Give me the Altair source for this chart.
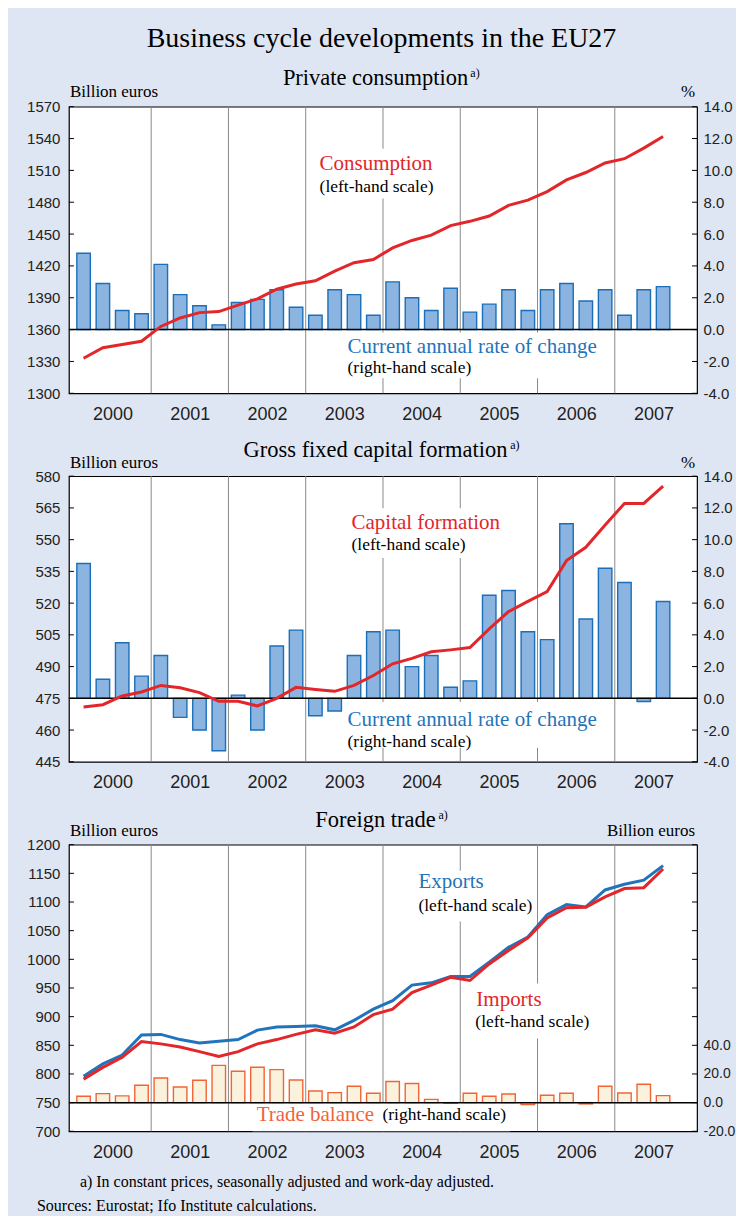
import altair as alt
import pandas as pd

# ---------------- data (quarters 2000Q1 .. 2007Q3) ----------------
years = ["2000", "2001", "2002", "2003", "2004", "2005", "2006", "2007"]
quarter_idx = list(range(31))

cons_level = [1333, 1343, 1346, 1349, 1363, 1371, 1376, 1377, 1383, 1389, 1398,
              1403, 1406, 1415, 1423, 1426, 1437, 1444, 1449, 1458, 1462, 1467,
              1477, 1482, 1490, 1501, 1508, 1517, 1521, 1531, 1542]
cons_rate = [4.8, 2.9, 1.2, 1.0, 4.1, 2.2, 1.5, 0.3, 1.7, 1.9, 2.5, 1.4, 0.9,
             2.5, 2.2, 0.9, 3.0, 2.0, 1.2, 2.6, 1.1, 1.6, 2.5, 1.2, 2.5, 2.9,
             1.8, 2.5, 0.9, 2.5, 2.7]

gfcf_level = [470.9, 472.0, 476.1, 478.0, 481.1, 480.0, 477.7, 473.6, 473.6,
              471.4, 475.0, 480.2, 479.2, 478.3, 481.1, 485.8, 491.3, 493.9,
              497.0, 497.9, 499.0, 507.8, 516.0, 520.8, 525.5, 540.1, 546.4,
              556.9, 567.1, 567.1, 575.3]
gfcf_rate = [8.5, 1.2, 3.5, 1.4, 2.7, -1.2, -2.0, -3.3, 0.2, -2.0, 3.3, 4.3,
             -1.1, -0.8, 2.7, 4.2, 4.3, 2.0, 2.7, 0.7, 1.1, 6.5, 6.8, 4.2, 3.7,
             11.0, 5.0, 8.2, 7.3, -0.2, 6.1]

exports = [796, 817.5, 833, 868, 869, 860, 854, 857, 860, 876.5, 882, 883, 884,
           877, 893.5, 913, 928, 955, 959, 970, 970, 995, 1021, 1039, 1078,
           1095.5, 1091.5, 1121, 1131, 1138, 1163.5]
imports = [791, 811.5, 829, 856.5, 852.5, 847, 839, 830.5, 839, 852.5, 860, 869,
           877, 871, 882, 903.5, 913, 942, 955, 968.5, 963, 992, 1015.5, 1037.5,
           1072, 1090, 1091, 1109, 1123.5, 1125, 1157.5]
balance = [4.4, 6.3, 4.7, 12.1, 17.2, 10.9, 15.6, 26.0, 21.9, 24.7, 23.0, 15.8,
           8.1, 7.0, 11.4, 6.5, 14.7, 13.3, 2.3, -0.4, 6.5, 4.4, 6.0, -1.4, 5.1,
           6.5, -0.9, 11.4, 6.7, 12.8, 4.9]

cons_left_ticks = [1300, 1330, 1360, 1390, 1420, 1450, 1480, 1510, 1540, 1570]
cons_right_ticks = [-4, -2, 0, 2, 4, 6, 8, 10, 12, 14]
gfcf_left_ticks = [445, 460, 475, 490, 505, 520, 535, 550, 565, 580]
gfcf_right_ticks = [-4, -2, 0, 2, 4, 6, 8, 10, 12, 14]
trade_left_ticks = [700, 750, 800, 850, 900, 950, 1000, 1050, 1100, 1150, 1200]
trade_right_ticks = [-20, 0, 20, 40]

# ---------------- style ----------------
BG = "#dfe6f3"
SERIF = "Liberation Serif"
SANS = "Liberation Sans"
RED = "#e2262a"
BLUE = "#1f74bb"
BAR_FILL = "#8bb5e0"
BAR_STROKE = "#1a6fb8"
TB_FILL = "#faf2dc"
TB_STROKE = "#f26434"
ORANGE = "#f0643c"
W = 629

year_pos = [4 * i + 2 for i in range(len(years))]
divider_pos = [4 * i for i in range(1, len(years))]
label_expr = "[" + ",".join("'%s'" % y for y in years) + "][(datum.value - 2) / 4]"
right_label_expr = "replace(format(datum.value, '.1f'), '\u2212', '-')"


def x_enc(field="q"):
    return alt.X(field + ":Q",
                 scale=alt.Scale(domain=[0, 32], nice=False, zero=False),
                 axis=alt.Axis(values=year_pos, labelExpr=label_expr, ticks=False,
                               domain=False, grid=False, labelFontSize=18,
                               labelFont=SANS, labelColor="#222222",
                               labelPadding=12, title=None, labelFlush=False))


def y_left(field, dom, ticks):
    return alt.Y(field + ":Q", scale=alt.Scale(domain=dom, nice=False, zero=False),
                 axis=alt.Axis(orient="left", values=ticks, ticks=False,
                               domain=False, grid=False, labelFontSize=15,
                               labelFont=SANS, labelColor="#222222",
                               labelPadding=9, title=None, format="d"))


def y_right(field, dom, ticks, size=15):
    return alt.Y(field + ":Q", scale=alt.Scale(domain=dom, nice=False, zero=False),
                 axis=alt.Axis(orient="right", values=ticks, ticks=False,
                               domain=False, grid=False, labelFontSize=size,
                               labelFont=SANS, labelColor="#222222",
                               labelPadding=6, title=None,
                               labelExpr=right_label_expr))


def txt(s, x, y, size, color="black", font=SERIF, align="left"):
    return alt.Chart(pd.DataFrame({"t": [s]})).mark_text(
        font=font, fontSize=size, color=color, align=align, baseline="middle"
    ).encode(text="t:N", x=alt.value(x), y=alt.value(y))


def box(x0, x1, y0, y1):
    # white backing behind an annotation block (hides the year dividers)
    return alt.Chart(pd.DataFrame({"b": [0]})).mark_rect(
        fill="white", stroke=None).encode(
        x=alt.value(x0), x2=alt.value(x1), y=alt.value(y0), y2=alt.value(y1))


def dividers():
    return alt.Chart(pd.DataFrame({"d": divider_pos})).mark_rule(
        color="#8a8a8a", strokeWidth=1).encode(x=x_enc("d"))


def inner_ticks(vals, dom, ticks):
    df = pd.DataFrame({"v": vals})
    left = alt.Chart(df).mark_rule(color="black", strokeWidth=1).encode(
        x=alt.value(0), x2=alt.value(5), y=y_left("v", dom, ticks))
    right = alt.Chart(df).mark_rule(color="black", strokeWidth=1).encode(
        x=alt.value(W - 5), x2=alt.value(W), y=y_left("v", dom, ticks))
    return [left, right]


def bars_group(df, field, dom, ticks, fill, stroke, boxes, size=15):
    bars = alt.Chart(df).mark_bar(size=13.5, fill=fill, stroke=stroke,
                                  strokeWidth=1.4).encode(
        x=x_enc("qc"), y=y_right(field, dom, ticks, size))
    zero = alt.Chart(pd.DataFrame({"z": [0]})).mark_rule(
        color="black", strokeWidth=1.5).encode(y=y_right("z", dom, ticks, size))
    return alt.layer(dividers(), *boxes, bars, zero)


SUB_C = 307  # centre of panel sub-titles


# ---------------- panel 1: private consumption ----------------
H1 = 287
df1 = pd.DataFrame({"q": quarter_idx, "level": cons_level, "rate": cons_rate})
df1["qc"] = df1["q"] + 0.5
L1 = [1300, 1570]
R1 = [-4, 14]
line1 = alt.Chart(df1).mark_line(color=RED, strokeWidth=3).encode(
    x=x_enc("qc"), y=y_left("level", L1, cons_left_ticks))
left1 = alt.layer(*inner_ticks(cons_left_ticks, L1, cons_left_ticks), line1)
right1 = bars_group(df1, "rate", R1, cons_right_ticks, BAR_FILL, BAR_STROKE,
                    [box(247, 375, 42, 92), box(275, 530, 226, 272)])
p1 = alt.layer(
    right1, left1,
    txt("Business cycle developments in the EU27", 313, -68, 28, align="center"),
    txt("Private consumption", SUB_C, -29, 22.5, align="center"),
    txt("a)", 402, -34, 12),
    txt("Billion euros", 1, -15, 17),
    txt("%", 627, -15, 17, align="right"),
    txt("Consumption", 251, 57, 21, RED),
    txt("(left-hand scale)", 251, 80, 17.5),
    txt("Current annual rate of change", 279, 241, 21, BLUE),
    txt("(right-hand scale)", 279, 262, 17.5),
).resolve_scale(y="independent").properties(width=W, height=H1)

# ---------------- panel 2: gross fixed capital formation ----------------
H2 = 286
df2 = pd.DataFrame({"q": quarter_idx, "level": gfcf_level, "rate": gfcf_rate})
df2["qc"] = df2["q"] + 0.5
L2 = [445, 580]
R2 = [-4, 14]
line2 = alt.Chart(df2).mark_line(color=RED, strokeWidth=3).encode(
    x=x_enc("qc"), y=y_left("level", L2, gfcf_left_ticks))
left2 = alt.layer(*inner_ticks(gfcf_left_ticks, L2, gfcf_left_ticks), line2)
right2 = bars_group(df2, "rate", R2, gfcf_right_ticks, BAR_FILL, BAR_STROKE,
                    [box(279, 440, 32, 82), box(275, 530, 226, 272)])
p2 = alt.layer(
    right2, left2,
    txt("Gross fixed capital formation", SUB_C, -26, 22.5, align="center"),
    txt("a)", 442, -31, 12),
    txt("Billion euros", 1, -13, 17),
    txt("%", 627, -13, 17, align="right"),
    txt("Capital formation", 283, 47, 21, RED),
    txt("(left-hand scale)", 283, 69, 17.5),
    txt("Current annual rate of change", 279, 244, 21, BLUE),
    txt("(right-hand scale)", 279, 266, 17.5),
).resolve_scale(y="independent").properties(width=W, height=H2)

# ---------------- panel 3: foreign trade ----------------
H3 = 287
df3 = pd.DataFrame({"q": quarter_idx, "exports": exports, "imports": imports,
                    "balance": balance})
df3["qc"] = df3["q"] + 0.5
L3 = [700, 1200]
R3 = [-20, 180]
exp_line = alt.Chart(df3).mark_line(color=BLUE, strokeWidth=3).encode(
    x=x_enc("qc"), y=y_left("exports", L3, trade_left_ticks))
imp_line = alt.Chart(df3).mark_line(color=RED, strokeWidth=3).encode(
    x=x_enc("qc"), y=y_left("imports", L3, trade_left_ticks))
left3 = alt.layer(*inner_ticks(trade_left_ticks, L3, trade_left_ticks),
                  exp_line, imp_line)
right3 = bars_group(df3, "balance", R3, trade_right_ticks, TB_FILL, TB_STROKE,
                    [box(346, 468, 26, 77), box(403, 526, 139, 194),
                     box(184, 442, 258, 287)], size=14)
p3 = alt.layer(
    right3, left3,
    txt("Foreign trade", SUB_C, -25, 22.5, align="center"),
    txt("a)", 370, -30, 12),
    txt("Billion euros", 1, -14, 17),
    txt("Billion euros", 627, -14, 17, align="right"),
    txt("Exports", 350, 37, 21, BLUE),
    txt("(left-hand scale)", 350, 61, 17.5),
    txt("Imports", 408, 156, 21, RED),
    txt("(left-hand scale)", 407, 178, 17.5),
    txt("Trade balance", 188, 271, 21, ORANGE),
    txt("(right-hand scale)", 314, 271, 17.5),
    txt("a) In constant prices, seasonally adjusted and work-day adjusted.",
        11, 338, 16),
    txt("Sources: Eurostat; Ifo Institute calculations.", -32, 362, 16),
).resolve_scale(y="independent").properties(width=W, height=H3)

chart = alt.vconcat(p1, p2, p3, spacing=83, bounds="flush").properties(
    padding={"left": 18, "top": 15, "right": 0, "bottom": 0}
).configure(background=BG).configure_view(stroke="black", strokeWidth=1.2,
                                          fill="white")

chart.save("out.html", embed_options={"renderer": "svg", "actions": False})
